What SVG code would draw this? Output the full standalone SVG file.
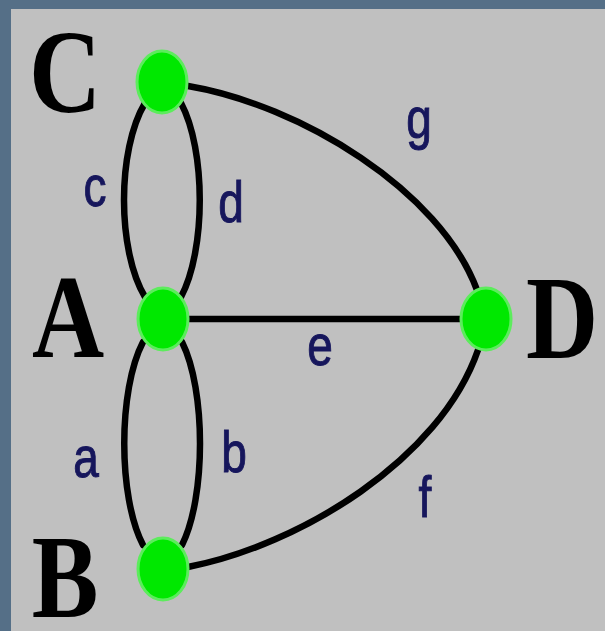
<svg xmlns="http://www.w3.org/2000/svg" width="605" height="631" viewBox="0 0 605 631">
<style>
.edge{fill:none;stroke:#000;stroke-width:6.5;stroke-linecap:round}
.node{fill:#00e800;stroke:#5cec5c;stroke-width:3}
.big{font-family:"Liberation Serif","Times New Roman",serif;font-weight:bold;font-size:100px;fill:#000;text-anchor:middle}
.lbl{font-family:"Liberation Sans",Arial,sans-serif;font-size:46px;fill:#16165c;stroke:#16165c;stroke-width:0.8;text-anchor:middle}
</style>
<rect x="0" y="0" width="605" height="631" fill="#556f87"/>
<rect x="11" y="9" width="594" height="622" fill="#c0c0c0"/>
<g id="connectors">
<path id="edge-c" class="edge" d="M145,103 C117,150 117,250 145,297"/>
<path id="edge-d" class="edge" d="M181,103 C206,150 206,250 181,297"/>
<path id="edge-a" class="edge" d="M143,342 C118,390 118,497 143,545"/>
<path id="edge-b" class="edge" d="M182,342 C206,390 206,497 182,545"/>
<path id="edge-e" class="edge" d="M188,319 L462,319"/>
<path id="edge-g" class="edge" d="M188,86 C300,105 440,190 477,290"/>
<path id="edge-f" class="edge" d="M188,567 C300,545 440,460 478,350"/>
<g transform="translate(95,206) scale(1,1.25)"><text class="lbl">c</text></g>
<g transform="translate(231,222) scale(1,1.25)"><text class="lbl">d</text></g>
<g transform="translate(86,477) scale(1,1.25)"><text class="lbl">a</text></g>
<g transform="translate(234,472) scale(1,1.25)"><text class="lbl">b</text></g>
<g transform="translate(320,365) scale(1,1.25)"><text class="lbl">e</text></g>
<g transform="translate(425,517) scale(1,1.25)"><text class="lbl">f</text></g>
<g transform="translate(419,138) scale(1,1.25)"><text class="lbl">g</text></g>
</g>
<g id="node-C">
<ellipse class="node" cx="162" cy="82" rx="25" ry="31"/>
<g transform="translate(65,112) scale(1,1.18)"><text class="big">C</text></g>
</g>
<g id="node-A">
<ellipse class="node" cx="163" cy="319" rx="25" ry="31"/>
<g transform="translate(68,357) scale(1,1.18)"><text class="big">A</text></g>
</g>
<g id="node-D">
<ellipse class="node" cx="486" cy="319" rx="25" ry="31"/>
<g transform="translate(562,358) scale(1,1.18)"><text class="big">D</text></g>
</g>
<g id="node-B">
<ellipse class="node" cx="163" cy="569" rx="25" ry="31"/>
<g transform="translate(65,617) scale(1,1.18)"><text class="big">B</text></g>
</g>
</svg>
